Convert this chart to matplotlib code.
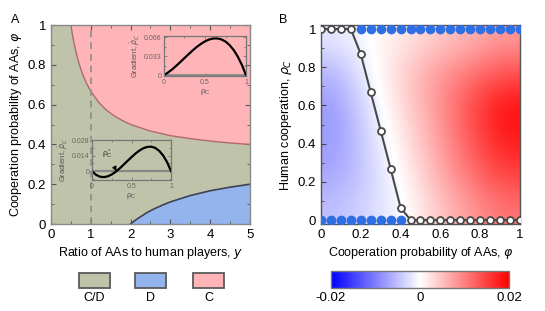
import numpy as np
import matplotlib
matplotlib.use("Agg")
import matplotlib.pyplot as plt
from matplotlib.patches import Rectangle
from matplotlib.ticker import MultipleLocator

plt.rcParams['font.family'] = ['Liberation Sans', 'DejaVu Sans']
plt.rcParams['mathtext.fontset'] = 'dejavusans'

# ---------------- Data: panel A ----------------
y_red = [0.5, 0.55, 0.6, 0.65, 0.7, 0.75, 0.8, 0.9, 1.0, 1.2, 1.4, 1.6, 1.8, 2.0, 2.5, 3.0, 3.5, 4.0, 4.5, 5.0]
phi_red = [1.0, 0.939, 0.889, 0.846, 0.810, 0.778, 0.750, 0.704, 0.667, 0.611, 0.571, 0.542, 0.519, 0.500,
           0.467, 0.444, 0.429, 0.417, 0.407, 0.400]
y_blue = [2.0, 2.1, 2.2, 2.4, 2.6, 2.8, 3.0, 3.5, 4.0, 4.5, 5.0]
phi_blue = [0.0, 0.016, 0.030, 0.056, 0.077, 0.095, 0.111, 0.143, 0.167, 0.185, 0.200]
y_dashed = 1.0

rho_in = [0.0, 0.05, 0.1, 0.15, 0.2, 0.25, 0.3, 0.35, 0.4, 0.45, 0.5, 0.55, 0.6, 0.65, 0.7, 0.75, 0.8, 0.85, 0.9, 0.95, 1.0]
grad_in1 = [0.0, 0.0046, 0.0101, 0.0163, 0.0229, 0.0297, 0.0364, 0.0430, 0.0490, 0.0543, 0.0587, 0.0619,
            0.0637, 0.0638, 0.0621, 0.0584, 0.0522, 0.0436, 0.0321, 0.0177, 0.0]
grad_in2 = [0.0, -0.0033, -0.0050, -0.0054, -0.0047, -0.0030, -0.0006, 0.0024, 0.0058, 0.0092, 0.0126,
            0.0158, 0.0185, 0.0206, 0.0218, 0.0220, 0.0209, 0.0183, 0.0141, 0.0081, 0.0]
rho_star = 0.31

legend_labels = ['C/D', 'D', 'C']

# ---------------- Data: panel B ----------------
phi_unstable = [0.0, 0.05, 0.1, 0.15, 0.2, 0.25, 0.3, 0.35, 0.4, 0.45, 0.5, 0.55, 0.6, 0.65, 0.7, 0.75,
                0.8, 0.85, 0.9, 0.95, 1.0]
rho_unstable = [1.0, 1.0, 1.0, 1.0, 0.868, 0.668, 0.468, 0.268, 0.065, 0.0, 0.0, 0.0, 0.0, 0.0, 0.0, 0.0,
                0.0, 0.0, 0.0, 0.0, 0.0]
phi_stable_top = [0.2, 0.25, 0.3, 0.35, 0.4, 0.45, 0.5, 0.55, 0.6, 0.65, 0.7, 0.75, 0.8, 0.85, 0.9, 0.95, 1.0]
rho_stable_top = [1.0] * 17
phi_stable_bot = [0.0, 0.05, 0.1, 0.15, 0.2, 0.25, 0.3, 0.35, 0.4]
rho_stable_bot = [0.0] * 9

phi_grid = [0.0, 0.2, 0.4, 0.6, 0.8, 1.0]
rho_grid = [0.0, 0.2, 0.4, 0.6, 0.8, 1.0]
grad_grid = [  # rows: rho_grid, cols: phi_grid
    [-0.0050, -0.0030, -0.0005, 0.0040, 0.0080, 0.0110],
    [-0.0070, -0.0035, 0.0005, 0.0060, 0.0110, 0.0150],
    [-0.0080, -0.0030, 0.0020, 0.0070, 0.0130, 0.0180],
    [-0.0080, -0.0020, 0.0030, 0.0080, 0.0140, 0.0190],
    [-0.0060, -0.0005, 0.0040, 0.0080, 0.0110, 0.0140],
    [-0.0020, 0.0000, 0.0020, 0.0040, 0.0060, 0.0080],
]
cbar_ticks = [-0.02, 0, 0.02]
cbar_labels = ['-0.02', '0', '0.02']

# ---------------- Styles ----------------
c_cd = '#bfc3a9'
c_d = '#94b4ee'
c_c = '#ffb4b7'
spine_gray = '#8a8a8a'

fig = plt.figure(figsize=(5.45, 3.11), dpi=100)

# ---------------- Panel A ----------------
axA = fig.add_axes([0.0936, 0.2797, 0.365, 0.6399])
axA.set_facecolor(c_cd)
axA.fill_between(y_red, phi_red, 1.0, color=c_c, lw=0)
axA.plot(y_red, phi_red, color='#b06a6a', lw=1.0)
axA.fill_between(y_blue, 0, phi_blue, color=c_d, lw=0)
axA.plot(y_blue, phi_blue, color='#3c4258', lw=1.2)
axA.axvline(y_dashed, color='#8c8c8c', lw=1.2, ls=(0, (4, 3)))
axA.set_xlim(0, 5)
axA.set_ylim(0, 1)
axA.set_xticks([0, 1, 2, 3, 4, 5])
axA.set_xticklabels(['0', '1', '2', '3', '4', '5'])
axA.set_yticks([0, 0.2, 0.4, 0.6, 0.8, 1.0])
axA.set_yticklabels(['0', '0.2', '0.4', '0.6', '0.8', '1'])
axA.xaxis.set_minor_locator(MultipleLocator(0.5))
axA.yaxis.set_minor_locator(MultipleLocator(0.1))
axA.tick_params(which='both', direction='in', top=True, right=True, color='#555555', labelsize=9.5)
axA.tick_params(which='major', length=3.5, width=0.8)
axA.tick_params(which='minor', length=2, width=0.6)
for s in axA.spines.values():
    s.set_color(spine_gray)
    s.set_linewidth(1.0)
axA.set_xlabel('Ratio of AAs to human players, $y$', fontsize=9, labelpad=3)
axA.set_ylabel(r'Cooperation probability of AAs, $\varphi$', fontsize=9, labelpad=3)
fig.text(0.027, 0.935, 'A', fontsize=9, ha='center', va='center')

def style_inset(ax):
    ax.set_facecolor('none')
    for s in ax.spines.values():
        s.set_color('#777777')
        s.set_linewidth(0.9)
    ax.tick_params(which='both', direction='in', top=True, right=True, color='#777777',
                   labelsize=5, labelcolor='#666666', length=2, width=0.6, pad=2)
    ax.tick_params(which='minor', length=1.2)
    ax.set_xlim(0, 1)
    ax.set_xticks([0, 0.5, 1])
    ax.set_xticklabels(['0', '0.5', '1'])
    ax.xaxis.set_minor_locator(MultipleLocator(0.25))
    ax.set_xlabel(r'$\mathregular{\rho_C}$', fontsize=6, color='#555555', labelpad=1)
    ax.set_ylabel(r'Gradient, $\dot{\rho}_C$', fontsize=5.5, color='#555555', labelpad=1)

# Inset 1
ax1 = fig.add_axes([0.3009, 0.7556, 0.1505, 0.1286])
ax1.axhline(0, color='#888888', lw=2.0)
ax1.plot(rho_in, grad_in1, color='black', lw=1.6)
ax1.set_ylim(-0.0015, 0.068)
ax1.set_yticks([0, 0.033, 0.066])
ax1.set_yticklabels(['0', '0.033', '0.066'])
ax1.yaxis.set_minor_locator(MultipleLocator(0.0165))
style_inset(ax1)

# Inset 2
ax2 = fig.add_axes([0.1688, 0.4212, 0.145, 0.1286])
ax2.axhline(0, color='#888888', lw=1.6)
ax2.plot(rho_in, grad_in2, color='black', lw=1.6)
ax2.set_ylim(-0.008, 0.028)
ax2.set_yticks([0, 0.014, 0.028])
ax2.set_yticklabels(['0', '0.014', '0.028'])
ax2.yaxis.set_minor_locator(MultipleLocator(0.007))
style_inset(ax2)
ax2.annotate(r'$\mathregular{\rho_C^*}$', xy=(rho_star, 0.0), xytext=(0.2, 0.0155),
             fontsize=6, color='#333333', ha='center', va='center',
             arrowprops=dict(arrowstyle='-|>', color='black', lw=0.9, mutation_scale=6,
                             shrinkA=3, shrinkB=0))

# Legend for panel A
leg_x = [79, 135, 193]
leg_cols = [c_cd, c_d, c_c]
for xx, col, lab in zip(leg_x, leg_cols, legend_labels):
    fig.add_artist(Rectangle((xx / 545, 1 - 288 / 311), 31 / 545, 15 / 311, transform=fig.transFigure,
                             facecolor=col, edgecolor='#5a5a5a', lw=1.3))
    fig.text((xx + 15.5) / 545, 1 - 298 / 311, lab, ha='center', va='center', fontsize=9)

# ---------------- Panel B ----------------
axB = fig.add_axes([0.589, 0.2797, 0.365, 0.6399])
ylimB = (-0.021, 1.021)
im = axB.imshow(np.array(grad_grid), origin='lower', cmap='bwr', vmin=-0.02, vmax=0.02,
                extent=(phi_grid[0], phi_grid[-1], ylimB[0], ylimB[1]), aspect='auto',
                interpolation='bicubic')
axB.plot(phi_unstable, rho_unstable, color='#4a4a4a', lw=1.5, marker='o', ms=5,
         mfc='white', mec='#4a4a4a', mew=1.3, zorder=3)
axB.plot(phi_stable_top, rho_stable_top, ls='none', marker='o', ms=6, mfc='#2f6fe4',
         mec='#2f6fe4', zorder=4)
axB.plot(phi_stable_bot, rho_stable_bot, ls='none', marker='o', ms=6, mfc='#2f6fe4',
         mec='#2f6fe4', zorder=4)
axB.set_xlim(0, 1)
axB.set_ylim(*ylimB)
axB.set_xticks([0, 0.2, 0.4, 0.6, 0.8, 1.0])
axB.set_xticklabels(['0', '0.2', '0.4', '0.6', '0.8', '1'])
axB.set_yticks([0, 0.2, 0.4, 0.6, 0.8, 1.0])
axB.set_yticklabels(['0', '0.2', '0.4', '0.6', '0.8', '1'])
axB.xaxis.set_minor_locator(MultipleLocator(0.1))
axB.yaxis.set_minor_locator(MultipleLocator(0.1))
axB.tick_params(which='both', direction='in', color='#444444', labelsize=9.5)
axB.tick_params(which='major', length=3.5, width=0.8)
axB.tick_params(which='minor', length=2, width=0.6)
for s in axB.spines.values():
    s.set_color('#555555')
    s.set_linewidth(1.0)
axB.set_xlabel(r'Cooperation probability of AAs, $\varphi$', fontsize=9, labelpad=3)
axB.set_ylabel(r'Human cooperation, $\rho_C$', fontsize=9, labelpad=3)
fig.text(0.519, 0.935, 'B', fontsize=9, ha='center', va='center')

# Colorbar
cax = fig.add_axes([331 / 545, 23 / 311, 178 / 545, 17 / 311])
cb = fig.colorbar(im, cax=cax, orientation='horizontal', ticks=cbar_ticks)
cb.ax.set_xticklabels(cbar_labels)
cb.ax.tick_params(length=0, labelsize=9.5, pad=3)
cb.outline.set_edgecolor('#777777')
cb.outline.set_linewidth(1.0)

fig.savefig('out.png', dpi=100)
